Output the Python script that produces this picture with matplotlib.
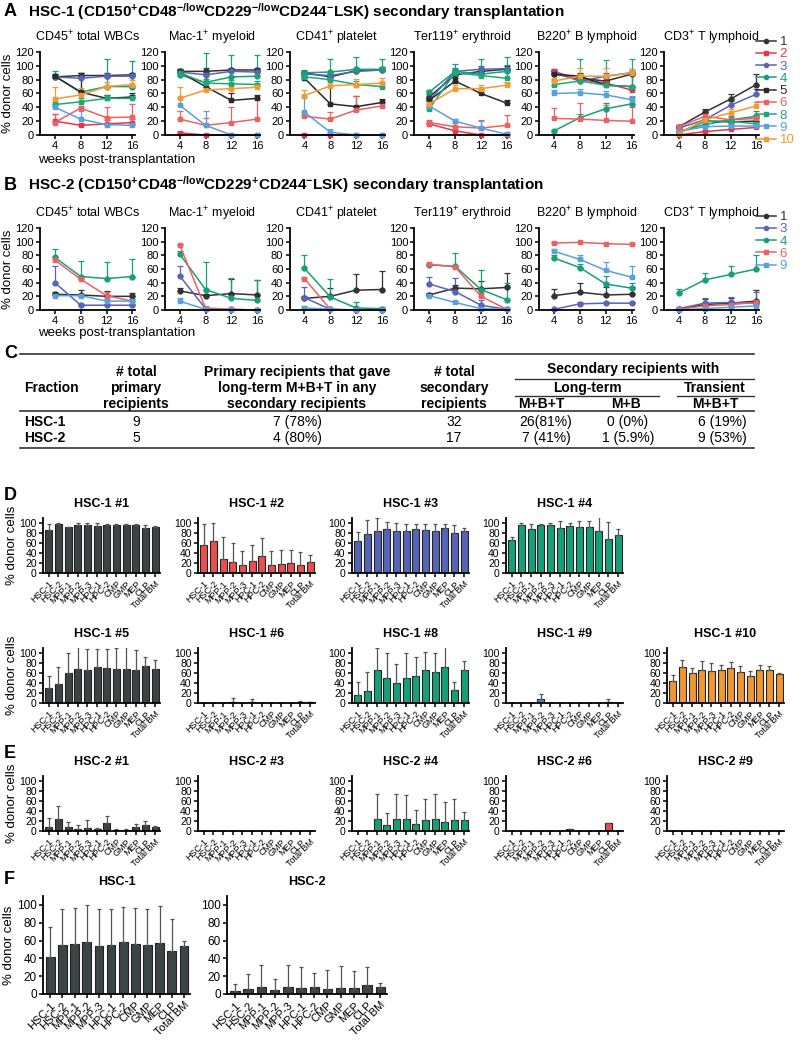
import matplotlib
matplotlib.use('Agg')
import matplotlib.pyplot as plt
import numpy as np
from matplotlib.lines import Line2D

plt.rcParams['font.family'] = ['Liberation Sans', 'DejaVu Sans']
plt.rcParams['mathtext.fontset'] = 'custom'
plt.rcParams['mathtext.rm'] = 'Liberation Sans'
plt.rcParams['mathtext.bf'] = 'Liberation Sans:bold'
plt.rcParams['mathtext.it'] = 'Liberation Sans:italic'

W, H = 800, 1042

# ---------------- data ----------------
weeks = [4, 8, 12, 16]

colors = {'1': '#333333', '2': '#e6374a', '3': '#5a63b5', '4': '#17a078',
          '5': '#2a2a2a', '6': '#ec6262', '8': '#1fa87a', '9': '#5aa0dc',
          '10': '#f39a32'}
markers = {'1': 'o', '2': 's', '3': 'o', '4': 'o', '5': 's', '6': 's',
           '8': 's', '9': 's', '10': 's'}

lineage_titles = [r"CD45$^{+}$ total WBCs", r"Mac-1$^{+}$ myeloid", r"CD41$^{+}$ platelet",
                  r"Ter119$^{+}$ erythroid", r"B220$^{+}$ B lymphoid", r"CD3$^{+}$ T lymphoid"]

# panel A (HSC-1 secondary recipients)
a_ids = ['1', '2', '3', '4', '5', '6', '8', '9', '10']
a_cd45 = {'1': [84, 86, 86, 87], '2': [20, 14, 16, 18], '3': [84, 82, 85, 85],
          '4': [85, 62, 70, 70], '5': [85, 62, 53, 55], '6': [18, 39, 25, 26],
          '8': [44, 48, 53, 53], '9': [40, 23, 15, 14], '10': [52, 58, 70, 73]}
a_cd45_err = {'1': [3, 4, 4, 3], '2': [10, 2, 5, 5], '3': [3, 8, 5, 4],
              '4': [8, 28, 40, 37], '5': [3, 27, 5, 5], '6': [12, 3, 16, 19],
              '8': [4, 5, 5, 5], '9': [5, 11, 3, 2], '10': [17, 10, 6, 6]}
a_mac1 = {'1': [92, 92, 94, 94], '2': [3, 0, 0, 0], '3': [91, 87, 92, 91],
          '4': [87, 76, 84, 85], '5': [91, 70, 50, 53], '6': [23, 14, 18, 23],
          '8': [90, 75, 74, 73], '9': [43, 14, 0, 0], '10': [53, 65, 67, 69]}
a_mac1_err = {'1': [3, 5, 3, 3], '2': [1, 0, 0, 0], '3': [4, 5, 4, 4],
              '4': [8, 42, 32, 31], '5': [3, 20, 10, 5], '6': [12, 10, 23, 29],
              '8': [6, 6, 5, 5], '9': [10, 21, 1, 1], '10': [17, 5, 5, 5]}
a_cd41 = {'1': [90, 84, 93, 94], '2': [0, 0, 0, 0], '3': [88, 86, 92, 94],
          '4': [90, 91, 95, 95], '5': [82, 45, 41, 47], '6': [27, 23, 36, 42],
          '8': [84, 80, 73, 70], '9': [33, 4, 0, 0], '10': [57, 71, 73, 75]}
a_cd41_err = {'1': [3, 4, 4, 4], '2': [0, 0, 0, 0], '3': [3, 5, 4, 4],
              '4': [4, 19, 18, 15], '5': [3, 35, 15, 5], '6': [4, 10, 20, 5],
              '8': [3, 5, 5, 5], '9': [20, 5, 0, 0], '10': [8, 5, 8, 8]}
a_ter119 = {'1': [55, 87, 92, 95], '2': [16, 6, 0, 0], '3': [50, 92, 95, 96],
            '4': [62, 92, 88, 92], '5': [50, 78, 60, 46], '6': [18, 12, 10, 14],
            '8': [38, 90, 86, 82], '9': [42, 20, 10, 1], '10': [45, 67, 67, 72]}
a_ter119_err = {'1': [4, 5, 5, 5], '2': [3, 2, 1, 0], '3': [4, 5, 5, 5],
                '4': [3, 10, 22, 21], '5': [3, 5, 5, 5], '6': [4, 5, 11, 15],
                '8': [3, 5, 5, 10], '9': [3, 3, 10, 3], '10': [5, 5, 5, 5]}
a_b220 = {'1': [88, 82, 78, 88], '2': [92, 80, 75, 65], '3': [90, 78, 85, 90],
          '4': [6, 25, 38, 45], '5': [88, 85, 72, 70], '6': [24, 23, 21, 20],
          '8': [73, 78, 72, 70], '9': [60, 61, 58, 51], '10': [78, 85, 85, 90]}
a_b220_err = {'1': [4, 5, 5, 5], '2': [3, 4, 5, 5], '3': [4, 5, 5, 5],
              '4': [1, 5, 8, 10], '5': [4, 5, 5, 20], '6': [15, 23, 23, 20],
              '8': [5, 32, 37, 40], '9': [5, 5, 5, 5], '10': [5, 12, 12, 5]}
a_cd3 = {'1': [12, 33, 52, 73], '2': [0, 5, 8, 11], '3': [10, 22, 43, 59],
         '4': [5, 15, 22, 27], '5': [3, 20, 19, 20], '6': [12, 27, 22, 24],
         '8': [3, 20, 20, 16], '9': [5, 12, 13, 13], '10': [2, 22, 32, 42]}
a_cd3_err = {'1': [3, 4, 7, 15], '2': [1, 2, 2, 2], '3': [3, 4, 6, 8],
             '4': [2, 5, 6, 8], '5': [2, 3, 3, 4], '6': [3, 4, 4, 5],
             '8': [2, 3, 3, 3], '9': [2, 3, 3, 3], '10': [2, 4, 5, 5]}

# panel B (HSC-2 secondary recipients)
b_ids = ['1', '3', '4', '6', '9']
b_cd45 = {'1': [23, 22, 20, 20], '3': [40, 7, 7, 7], '4': [77, 49, 46, 49],
          '6': [73, 45, 21, 13], '9': [21, 21, 13, 13]}
b_cd45_err = {'1': [3, 8, 8, 5], '3': [25, 2, 2, 2], '4': [12, 22, 24, 26],
              '6': [4, 3, 5, 3], '9': [3, 3, 3, 3]}
b_mac1 = {'1': [28, 21, 24, 22], '3': [50, 2, 1, 0], '4': [82, 30, 17, 14],
          '6': [95, 3, 1, 0], '9': [13, 1, 0, 0]}
b_mac1_err = {'1': [4, 3, 22, 22], '3': [15, 2, 1, 1], '4': [5, 40, 30, 30],
              '6': [2, 1, 1, 1], '9': [5, 1, 1, 1]}
b_cd41 = {'1': [17, 20, 29, 30], '3': [18, 1, 0, 0], '4': [61, 19, 3, 2],
          '6': [46, 1, 0, 0], '9': [3, 1, 0, 0]}
b_cd41_err = {'1': [3, 12, 23, 27], '3': [16, 1, 1, 1], '4': [19, 27, 8, 3],
              '6': [2, 1, 0, 0], '9': [3, 1, 0, 0]}
b_ter119 = {'1': [22, 32, 31, 33], '3': [38, 27, 7, 1], '4': [66, 64, 30, 15],
            '6': [67, 63, 20, 1], '9': [21, 11, 2, 1]}
b_ter119_err = {'1': [3, 5, 12, 21], '3': [10, 20, 8, 2], '4': [2, 19, 29, 25],
                '6': [2, 2, 5, 1], '9': [3, 2, 2, 1]}
b_b220 = {'1': [21, 26, 22, 23], '3': [1, 9, 10, 10], '4': [76, 62, 38, 32],
          '6': [98, 99, 97, 96], '9': [86, 74, 58, 48]}
b_b220_err = {'1': [10, 13, 12, 10], '3': [1, 2, 2, 2], '4': [4, 5, 12, 8],
              '6': [1, 1, 1, 1], '9': [3, 7, 12, 16]}
b_cd3 = {'1': [1, 8, 10, 13], '3': [2, 10, 11, 10], '4': [25, 44, 52, 60],
         '6': [1, 6, 8, 11], '9': [0, 2, 4, 6]}
b_cd3_err = {'1': [2, 8, 8, 16], '3': [2, 7, 8, 17], '4': [6, 10, 12, 20],
             '6': [1, 2, 3, 4], '9': [1, 2, 2, 3]}

# panel C table
tab_fraction = ['HSC-1', 'HSC-2']
tab_primary = ['9', '5']
tab_primary_lt = ['7 (78%)', '4 (80%)']
tab_secondary = ['32', '17']
tab_lt_mbt = ['26(81%)', '7 (41%)']
tab_lt_mb = ['0 (0%)', '1 (5.9%)']
tab_tr_mbt = ['6 (19%)', '9 (53%)']

# panels D-F (bone marrow populations)
pops = ['HSC-1', 'HSC-2', 'MPP-1', 'MPP-2', 'MPP-3', 'HPC-1', 'HPC-2',
        'CMP', 'GMP', 'MEP', 'CLP', 'Total BM']
d1 = [86, 98, 93, 97, 96, 95, 97, 97, 96, 97, 91, 93]
d1_err = [13, 2, 0, 4, 4, 6, 1, 2, 2, 2, 5, 1]
d2 = [56, 65, 29, 22, 17, 25, 34, 17, 18, 20, 16, 22]
d2_err = [42, 36, 44, 38, 27, 32, 37, 27, 29, 27, 26, 15]
d3 = [65, 78, 85, 88, 84, 84, 88, 86, 85, 91, 80, 85]
d3_err = [18, 28, 25, 15, 16, 14, 11, 13, 14, 8, 17, 5]
d4 = [67, 97, 89, 97, 97, 91, 95, 93, 93, 85, 69, 77]
d4_err = [5, 3, 10, 2, 4, 13, 5, 11, 12, 27, 33, 12]
d5 = [30, 39, 61, 69, 66, 73, 71, 68, 69, 67, 74, 68]
d5_err = [24, 33, 40, 43, 42, 36, 38, 42, 43, 39, 19, 18]
d6 = [0, 0, 0, 3, 0, 3, 0, 0, 0, 0, 2, 2]
d6_err = [0, 0, 0, 8, 0, 5, 0, 0, 0, 0, 2, 1]
d8 = [17, 25, 66, 50, 40, 50, 55, 67, 62, 73, 27, 66]
d8_err = [25, 38, 44, 50, 38, 50, 38, 35, 38, 45, 15, 18]
d9 = [0, 0, 0, 8, 0, 0, 0, 0, 0, 0, 2, 0]
d9_err = [0, 0, 0, 10, 0, 0, 0, 0, 0, 1, 6, 1]
d10 = [45, 73, 60, 67, 65, 66, 71, 62, 55, 66, 67, 58]
d10_err = [12, 13, 11, 17, 15, 11, 11, 13, 10, 11, 8, 2]

e1 = [9, 24, 9, 4, 7, 4, 17, 3, 3, 8, 12, 8]
e1_err = [17, 26, 9, 8, 15, 3, 13, 1, 1, 6, 8, 3]
e3 = [0, 0, 0, 0, 0, 0, 0, 0, 0, 0, 0, 0]
e3_err = [0, 0, 0, 0, 0, 0, 0, 0, 0, 0, 0, 0]
e4 = [0, 0, 25, 12, 25, 24, 14, 22, 24, 19, 23, 22]
e4_err = [0, 0, 50, 25, 50, 48, 28, 43, 50, 40, 42, 17]
e6 = [1, 1, 0, 0, 0, 0, 5, 0, 0, 0, 16, 0]
e6_err = [0, 0, 0, 0, 0, 0, 0, 0, 0, 0, 0, 0]
e9 = [0, 0, 0, 0, 0, 0, 1, 0, 0, 0, 0, 0]
e9_err = [0, 0, 0, 0, 0, 0, 0, 0, 0, 0, 0, 0]

f_hsc1 = [42, 55, 56, 58, 54, 55, 58, 56, 55, 57, 48, 54]
f_hsc1_err = [33, 40, 40, 42, 41, 40, 40, 41, 40, 42, 36, 6]
f_hsc2 = [3, 6, 8, 4, 8, 7, 8, 6, 7, 7, 10, 8]
f_hsc2_err = [8, 16, 24, 13, 25, 23, 16, 21, 24, 19, 20, 4]

# ---------------- helpers ----------------
fig = plt.figure(figsize=(8, 10.42), dpi=100)

ov = fig.add_axes([0, 0, 1, 1])
ov.set_xlim(0, W)
ov.set_ylim(H, 0)
ov.axis('off')


def rect(l, t, w, h):
    return [l / W, 1 - (t + h) / H, w / W, h / H]


def style(ax, fs=8):
    for s in ['top', 'right']:
        ax.spines[s].set_visible(False)
    for s in ['left', 'bottom']:
        ax.spines[s].set_linewidth(1.3)
    ax.tick_params(width=1.1, length=3, labelsize=fs, pad=1.5)


def line_panel(ax, vals, errs, ids, title, ylab):
    for k in ids:
        y = np.array(vals[k])
        e = np.array(errs[k])
        ax.errorbar(weeks, y, yerr=[np.zeros_like(e), e], color=colors[k],
                    marker=markers[k], ms=3.5, lw=1.1, elinewidth=0.9,
                    capsize=2, capthick=0.9, clip_on=False)
    ax.set_xlim(1.7, 16.4)
    ax.set_ylim(0, 120)
    ax.set_xticks(weeks)
    ax.set_yticks(range(0, 121, 20))
    style(ax)
    ax.set_title(title, fontsize=9, pad=8)
    if ylab:
        ax.set_ylabel('% donor cells', fontsize=9.5, labelpad=1)


def bar_panel(ax, vals, errs, color, title, ylab, big=False):
    x = np.arange(len(pops))
    ax.bar(x, vals, width=0.72, color=color, edgecolor='#222222', lw=0.8)
    ax.errorbar(x, vals, yerr=[np.zeros(len(x)), errs], fmt='none',
                ecolor='#555555', elinewidth=0.9, capsize=1.5, capthick=0.9)
    ax.set_xlim(-0.6, len(pops) - 0.5)
    ax.set_ylim(0, 110)
    ax.set_xticks(x)
    ax.set_xticklabels(pops, rotation=45, ha='right', rotation_mode='anchor')
    ax.set_yticks(range(0, 101, 20))
    style(ax, fs=8.5 if big else 7.5)
    for lab in ax.get_xticklabels():
        lab.set_fontsize(8 if big else 6.5)
    ax.set_title(title, fontsize=9, fontweight='bold', pad=8)
    if ylab:
        ax.set_ylabel('% donor cells', fontsize=9.5, labelpad=1)


# ---------------- panels A & B ----------------
a_vals = [(a_cd45, a_cd45_err), (a_mac1, a_mac1_err), (a_cd41, a_cd41_err),
          (a_ter119, a_ter119_err), (a_b220, a_b220_err), (a_cd3, a_cd3_err)]
b_vals = [(b_cd45, b_cd45_err), (b_mac1, b_mac1_err), (b_cd41, b_cd41_err),
          (b_ter119, b_ter119_err), (b_b220, b_b220_err), (b_cd3, b_cd3_err)]

for i in range(6):
    left = 40 + 124.8 * i
    ax = fig.add_axes(rect(left, 52, 95, 83))
    line_panel(ax, a_vals[i][0], a_vals[i][1], a_ids, lineage_titles[i], i == 0)
    ax = fig.add_axes(rect(left, 228, 95, 82))
    line_panel(ax, b_vals[i][0], b_vals[i][1], b_ids, lineage_titles[i], i == 0)

ov.text(38, 160, 'weeks post-transplantation', fontsize=9.5, va='center')
ov.text(38, 333, 'weeks post-transplantation', fontsize=9.5, va='center')

for ids, top in [(a_ids, 36), (b_ids, 211)]:
    handles = [Line2D([], [], color=colors[k], marker=markers[k], ms=3, lw=1.1)
               for k in ids]
    fig.legend(handles, ids, loc='upper left', bbox_to_anchor=(756 / W, 1 - top / H),
               frameon=False, fontsize=9.5, labelcolor='linecolor', handlelength=1.5,
               handletextpad=0.3, labelspacing=0.0, borderpad=0, borderaxespad=0)

# panel letters and headers
for letter, y in [('A', 12), ('B', 185), ('C', 353), ('D', 495), ('E', 753), ('F', 880)]:
    ov.text(4, y, letter, fontsize=13, fontweight='bold', va='center')
ov.text(28, 12, r"HSC-1 (CD150$^{\mathbf{+}}$CD48$^{\mathbf{-/low}}$CD229$^{\mathbf{-/low}}$"
        r"CD244$^{\mathbf{-}}$LSK) secondary transplantation",
        fontsize=11, fontweight='bold', va='center')
ov.text(28, 185, r"HSC-2 (CD150$^{\mathbf{+}}$CD48$^{\mathbf{-/low}}$CD229$^{\mathbf{+}}$"
        r"CD244$^{\mathbf{-}}$LSK) secondary transplantation",
        fontsize=11, fontweight='bold', va='center')

# ---------------- panel C table ----------------
narrow = ['Liberation Sans Narrow', 'Liberation Sans']
tkw = dict(family=narrow, fontsize=10, va='center', ha='center')
hkw = dict(tkw, fontweight='bold')
ov.plot([20, 754], [354, 354], color='#333333', lw=1.2)
ov.plot([20, 754], [411, 411], color='#333333', lw=1.2)
ov.plot([20, 754], [448, 448], color='#333333', lw=1.2)
ov.plot([515, 754], [379, 379], color='#333333', lw=1.0)
ov.plot([515, 659], [396, 396], color='#333333', lw=1.0)
ov.plot([677, 754], [396, 396], color='#333333', lw=1.0)

ov.text(24, 388, 'Fraction', **dict(hkw, ha='left'))
ov.text(136, 372, '# total', **hkw)
ov.text(136, 388, 'primary', **hkw)
ov.text(136, 404, 'recipients', **hkw)
ov.text(297, 372, 'Primary recipients that gave', **hkw)
ov.text(297, 388, 'long-term M+B+T in any', **hkw)
ov.text(297, 404, 'secondary recipients', **hkw)
ov.text(454, 372, '# total', **hkw)
ov.text(454, 388, 'secondary', **hkw)
ov.text(454, 404, 'recipients', **hkw)
ov.text(633, 369, 'Secondary recipients with', **hkw)
ov.text(587, 388, 'Long-term', **hkw)
ov.text(715, 388, 'Transient', **hkw)
ov.text(541, 404, 'M+B+T', **hkw)
ov.text(626, 404, 'M+B', **hkw)
ov.text(715, 404, 'M+B+T', **hkw)

for r, y in enumerate([422, 438]):
    ov.text(24, y, tab_fraction[r], **dict(hkw, ha='left'))
    ov.text(136, y, tab_primary[r], **tkw)
    ov.text(297, y, tab_primary_lt[r], **tkw)
    ov.text(454, y, tab_secondary[r], **tkw)
    ov.text(546, y, tab_lt_mbt[r], **tkw)
    ov.text(628, y, tab_lt_mb[r], **tkw)
    ov.text(722, y, tab_tr_mbt[r], **tkw)

# ---------------- panels D & E ----------------
col_left = [43, 198, 352, 506, 667]
bw = 117

d_row1 = [('HSC-1 #1', d1, d1_err, '#3b4343'), ('HSC-1 #2', d2, d2_err, '#e8504f'),
          ('HSC-1 #3', d3, d3_err, '#5565b5'), ('HSC-1 #4', d4, d4_err, '#17a078')]
d_row2 = [('HSC-1 #5', d5, d5_err, '#3b4343'), ('HSC-1 #6', d6, d6_err, '#e8504f'),
          ('HSC-1 #8', d8, d8_err, '#17a078'), ('HSC-1 #9', d9, d9_err, '#4a90c8'),
          ('HSC-1 #10', d10, d10_err, '#f0982e')]
e_row = [('HSC-2 #1', e1, e1_err, '#3b4343'), ('HSC-2 #3', e3, e3_err, '#5565b5'),
         ('HSC-2 #4', e4, e4_err, '#17a078'), ('HSC-2 #6', e6, e6_err, '#e8504f'),
         ('HSC-2 #9', e9, e9_err, '#5aa0dc')]

for row, top in [(d_row1, 518), (d_row2, 648), (e_row, 776)]:
    for c, (title, v, e, col) in enumerate(row):
        ax = fig.add_axes(rect(col_left[c], top, bw, 55))
        bar_panel(ax, v, e, col, title, c == 0)

# ---------------- panel F ----------------
ax = fig.add_axes(rect(43, 896, 147, 98))
bar_panel(ax, f_hsc1, f_hsc1_err, '#3b4545', 'HSC-1', True, big=True)
ax = fig.add_axes(rect(227, 896, 160, 98))
bar_panel(ax, f_hsc2, f_hsc2_err, '#3b4545', 'HSC-2', False, big=True)

fig.savefig('out.png', dpi=100)
